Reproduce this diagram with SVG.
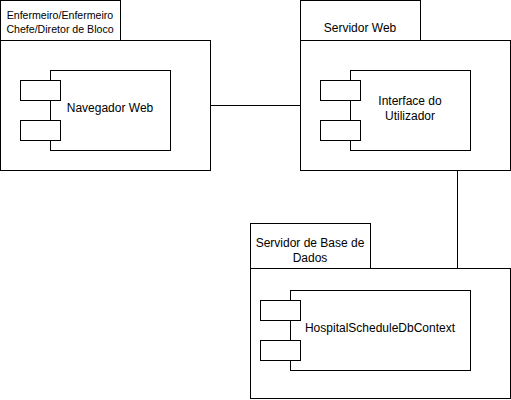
<svg xmlns="http://www.w3.org/2000/svg" width="511" height="400" viewBox="0 0 511 400">
<style>
rect{fill:#fff;stroke:#000;stroke-width:1}
text{font-family:"Liberation Sans",Arial,sans-serif;font-size:12px;fill:#000;text-anchor:middle}
.tab{font-size:10.6px}
.con{stroke:#000;stroke-width:1;fill:none}
</style>
<rect x="0" y="0" width="511" height="400" style="stroke:none"/>
<g id="connectors">
<line class="con" x1="210.5" y1="105.5" x2="300.5" y2="105.5"/>
<line class="con" x1="457.5" y1="170.5" x2="457.5" y2="268.5"/>
</g>
<g id="pkg-cliente">
<rect x="0.5" y="0.5" width="120" height="40"/>
<rect x="0.5" y="40.5" width="210" height="130"/>
<text class="tab" x="60" y="18.5">Enfermeiro/Enfermeiro</text>
<text class="tab" x="60" y="32.5">Chefe/Diretor de Bloco</text>
</g>
<g id="comp-navegador">
<rect x="50.5" y="70.5" width="120" height="80"/>
<rect x="20.5" y="80.5" width="40" height="20"/>
<rect x="20.5" y="120.5" width="40" height="20"/>
<text x="110" y="112">Navegador Web</text>
</g>
<g id="pkg-servidor-web">
<rect x="300.5" y="0.5" width="120" height="40"/>
<rect x="300.5" y="40.5" width="210" height="130"/>
<text x="360" y="32">Servidor Web</text>
</g>
<g id="comp-interface">
<rect x="350.5" y="70.5" width="120" height="80"/>
<rect x="320.5" y="80.5" width="40" height="20"/>
<rect x="320.5" y="120.5" width="40" height="20"/>
<text x="410" y="105">Interface do</text>
<text x="410" y="120">Utilizador</text>
</g>
<g id="pkg-servidor-bd">
<rect x="250.5" y="223.5" width="120" height="45"/>
<rect x="250.5" y="268.5" width="260" height="130"/>
<text x="310" y="247">Servidor de Base de</text>
<text x="310" y="262">Dados</text>
</g>
<g id="comp-dbcontext">
<rect x="290.5" y="290.5" width="180" height="80"/>
<rect x="260.5" y="300.5" width="40" height="20"/>
<rect x="260.5" y="340.5" width="40" height="20"/>
<text x="380" y="332">HospitalScheduleDbContext</text>
</g>
</svg>
